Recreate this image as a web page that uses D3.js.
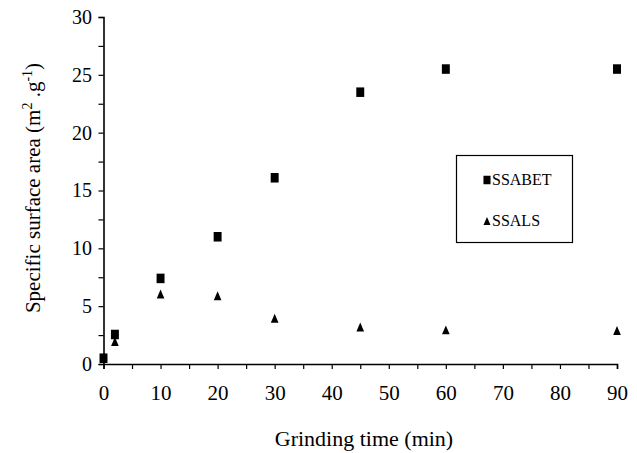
<!DOCTYPE html>
<html>
<head>
<meta charset="utf-8">
<script src="https://cdn.jsdelivr.net/npm/d3@7"></script>
<style>
  html, body { margin: 0; padding: 0; background: #fff; }
  svg { display: block; }
</style>
</head>
<body>
<svg id="chart" width="637" height="453"></svg>
<script>
// Grinding time (min) and specific surface area (m2/g) for each method
const timeBET = [0, 2, 10, 20, 30, 45, 60, 90];
const ssaBET  = [0.5, 2.55, 7.4, 11.0, 16.1, 23.5, 25.5, 25.5];
const timeLS  = [2, 10, 20, 30, 45, 60, 90];
const ssaLS   = [1.95, 6.05, 5.9, 3.95, 3.2, 2.95, 2.9];

const xTicks = [0, 10, 20, 30, 40, 50, 60, 70, 80, 90];
const yTicks = [0, 5, 10, 15, 20, 25, 30];
const seriesNames = ["SSABET", "SSALS"];

const serif = '"Liberation Serif", "Times New Roman", serif';
const svg = d3.select("#chart");

const x = d3.scaleLinear().domain([0, 90]).range([103.5, 617]);
const y = d3.scaleLinear().domain([0, 30]).range([364, 17]);

// marker shapes: slightly tall filled square and triangle, centred on the point
const squareMark = {
  draw(ctx, size) {
    const w = Math.sqrt(size) * 0.9, h = Math.sqrt(size) * 1.08;
    ctx.rect(-w / 2, -h / 2, w, h);
  }
};
const triangleMark = {
  draw(ctx, size) {
    const w = Math.sqrt(size) * 0.9, h = Math.sqrt(size) * 1.05;
    ctx.moveTo(0, -h / 2);
    ctx.lineTo(w / 2, h / 2);
    ctx.lineTo(-w / 2, h / 2);
    ctx.closePath();
  }
};

// x axis: major ticks every 10, minor every 5
const xAxis = svg.append("g").attr("transform", `translate(0,${y(0)})`)
  .call(d3.axisBottom(x).tickValues(d3.range(0, 91, 5)).tickSize(5).tickPadding(16)
    .tickFormat(d => xTicks.includes(d) ? d : ""));
xAxis.attr("font-size", 21);
// y axis: major ticks every 5, minor every 2.5
const yAxis = svg.append("g").attr("transform", `translate(${x(0)},0)`)
  .call(d3.axisLeft(y).tickValues(d3.range(0, 30.1, 2.5)).tickSize(5).tickPadding(6.5)
    .tickFormat(d => yTicks.includes(d) ? d : ""));
yAxis.attr("font-size", 20);

[xAxis, yAxis].forEach(g => {
  g.attr("font-family", serif);
  g.select(".domain").attr("stroke", "#000").attr("stroke-width", 1.6);
  g.selectAll(".tick line").attr("stroke", "#000").attr("stroke-width", 1.2);
  g.selectAll(".tick text").attr("fill", "#000");
});

// SSABET: filled squares
svg.append("g").selectAll("path")
  .data(timeBET.map((t, i) => [t, ssaBET[i]]))
  .join("path")
  .attr("d", d3.symbol(squareMark, 78))
  .attr("transform", d => `translate(${x(d[0])},${y(d[1])})`)
  .attr("fill", "#000");

// SSALS: filled triangles
svg.append("g").selectAll("path")
  .data(timeLS.map((t, i) => [t, ssaLS[i]]))
  .join("path")
  .attr("d", d3.symbol(triangleMark, 72))
  .attr("transform", d => `translate(${x(d[0])},${y(d[1])})`)
  .attr("fill", "#000");

// axis titles
svg.append("text")
  .attr("x", 364).attr("y", 446)
  .attr("text-anchor", "middle")
  .attr("font-family", serif).attr("font-size", 22)
  .text("Grinding time (min)");

const yt = svg.append("text")
  .attr("transform", "translate(40,188) rotate(-90)")
  .attr("text-anchor", "middle")
  .attr("font-family", serif).attr("font-size", 21);
yt.append("tspan").text("Specific surface area (m");
yt.append("tspan").attr("dy", -8).attr("font-size", 14).text("2");
yt.append("tspan").attr("dy", 8).text(" .g");
yt.append("tspan").attr("dy", -8).attr("font-size", 14).text("-1");
yt.append("tspan").attr("dy", 8).text(")");

// legend
const legend = svg.append("g");
legend.append("rect")
  .attr("x", 456.5).attr("y", 155.5).attr("width", 116).attr("height", 87)
  .attr("fill", "#fff").attr("stroke", "#000").attr("stroke-width", 1.2);
const legSymbols = [d3.symbol(squareMark, 62), d3.symbol(triangleMark, 60)];
const legY = [180, 221];
seriesNames.forEach((name, i) => {
  legend.append("path").attr("d", legSymbols[i])
    .attr("transform", `translate(487,${legY[i]})`).attr("fill", "#000");
  legend.append("text").attr("x", 492).attr("y", legY[i] + 5)
    .attr("font-family", serif).attr("font-size", 16).text(name);
});
</script>
</body>
</html>
